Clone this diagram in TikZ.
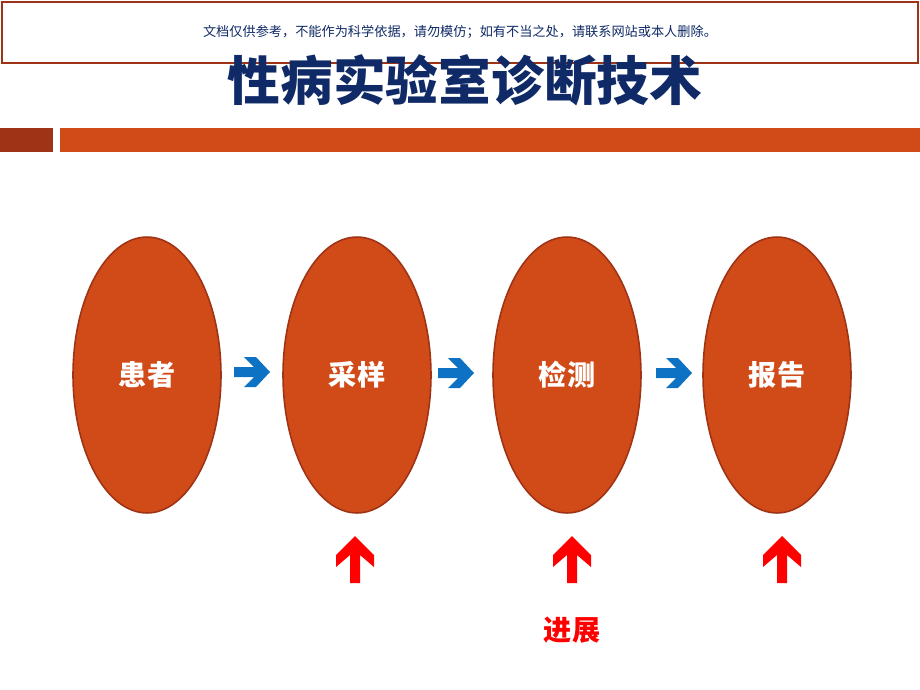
\documentclass[tikz,border=0pt]{standalone}
\usepackage{fontspec}
\setmainfont{Noto Sans CJK SC}
\usetikzlibrary{shapes.geometric}
\definecolor{rust}{HTML}{D14B19}
\definecolor{rustline}{HTML}{9E3315}
\definecolor{navy}{HTML}{0F2A66}
\definecolor{flowblue}{HTML}{0E72C4}

\tikzset{
  stage/.style={ellipse, draw=rustline, line width=0.9pt, fill=rust,
    minimum width=2.96cm, minimum height=5.52cm,
    text=white, font=\fontsize{16}{16}\selectfont\bfseries},
  blueArrow/.pic={\fill[flowblue] (-18,-5) -- (2,-5) -- (-8,-15) -- (4,-15) -- (18,0)
    -- (4,15) -- (-8,15) -- (2,5) -- (-18,5) -- cycle;},
  redArrow/.pic={\fill[red] (0,-24) -- (19,-5) -- (19,7) -- (5,-5) -- (5,23)
    -- (-5,23) -- (-5,-5) -- (-19,7) -- (-19,-5) -- cycle;}
}

\begin{document}
\begin{tikzpicture}[x=0.02cm, y=-0.02cm]
  \useasboundingbox (0,0) rectangle (920,690);
  % banner and title
  \draw[draw=rustline, line width=0.8pt, fill=white] (2,2) rectangle (918,63);
  \node (note) at (460,32) {\fontsize{7.5}{7.5}\selectfont\color{navy}文档仅供参考，不能作为科学依据，请勿模仿；如有不当之处，请联系网站或本人删除。};
  \node (title) at (465,80) {\fontsize{30}{30}\selectfont\bfseries\color{navy}性病实验室诊断技术};
  \fill[rustline] (0,128) rectangle (53,152);
  \fill[rust] (60,128) rectangle (920,152);
  % process
  \node[stage] (patient) at (147,375) {患者};
  \node[stage] (sample) at (357,375) {采样};
  \node[stage] (test) at (567,375) {检测};
  \node[stage] (report) at (777,375) {报告};
  \pic at (252,372) {blueArrow};
  \pic at (456,373) {blueArrow};
  \pic at (674,373) {blueArrow};
  \pic at (355,560) {redArrow};
  \pic at (572,560) {redArrow};
  \pic at (782,560) {redArrow};
  \node (progress) at (572,630) {\fontsize{16}{16}\selectfont\bfseries\color{red}进展};
\end{tikzpicture}
\end{document}
